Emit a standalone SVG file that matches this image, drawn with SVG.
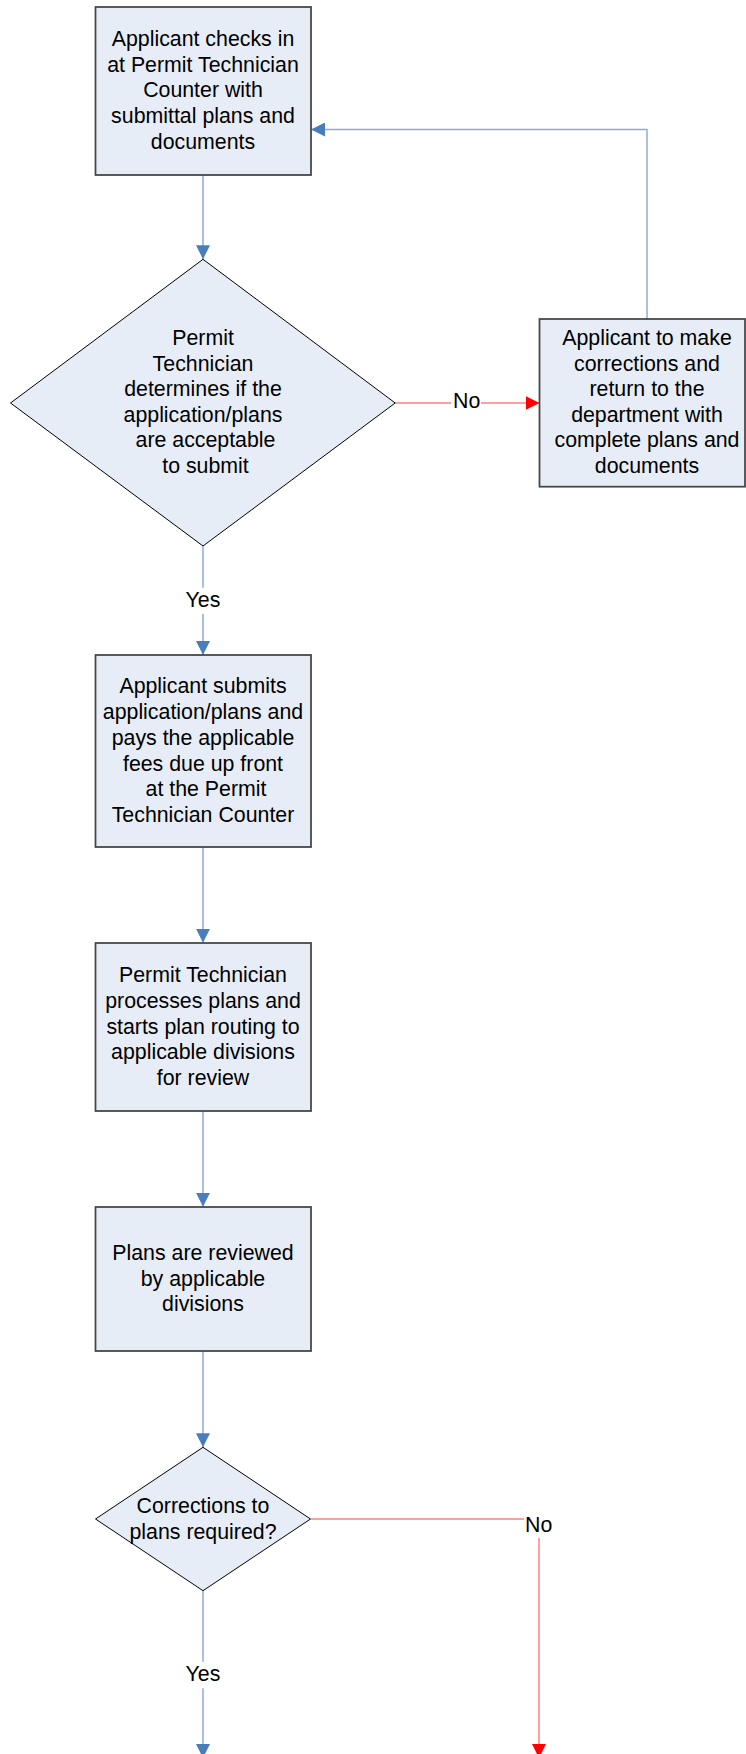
<svg xmlns="http://www.w3.org/2000/svg" width="746" height="1754" viewBox="0 0 746 1754">
<style>
.box{fill:#E7EDF7;stroke:#444;stroke-width:1.75}
.dia{fill:#E7EDF7;stroke:#000;stroke-width:1}
.t{font-family:"Liberation Sans",Arial,sans-serif;font-size:21.33px;fill:#000;text-anchor:middle}
.cb{fill:none;stroke:#8EAADB;stroke-width:1.5}
.cr{fill:none;stroke:#FF7F7F;stroke-width:1.5}
</style>
<defs>
<marker id="ab" viewBox="0 0 14 14" markerWidth="14" markerHeight="14" refX="14" refY="7" orient="auto" markerUnits="userSpaceOnUse"><path d="M0,0 L14,7 L0,14 z" fill="#4A7EBB"/></marker>
<marker id="ar" viewBox="0 0 14 14" markerWidth="14" markerHeight="14" refX="14" refY="7" orient="auto" markerUnits="userSpaceOnUse"><path d="M0,0 L14,7 L0,14 z" fill="#FF0000"/></marker>
</defs>
<g id="connectors">
<path class="cb" d="M203,175 V259.3" marker-end="url(#ab)"/>
<path class="cr" d="M395.2,403 H451"/>
<path class="cr" d="M481,403 H539.5" marker-end="url(#ar)"/>
<text class="t" x="466.7" y="408.3">No</text>
<path class="cb" d="M647,319 V129.5 H311" marker-end="url(#ab)"/>
<path class="cb" d="M203,546 V587.7"/>
<text class="t" x="203" y="606.7">Yes</text>
<path class="cb" d="M203,614 V655" marker-end="url(#ab)"/>
<path class="cb" d="M203,846.7 V942.7" marker-end="url(#ab)"/>
<path class="cb" d="M203,1111 V1206.7" marker-end="url(#ab)"/>
<path class="cb" d="M203,1350.7 V1447.3" marker-end="url(#ab)"/>
<path class="cr" d="M311,1519 H524"/>
<text class="t" x="538.7" y="1531.5">No</text>
<path class="cr" d="M539,1538 V1758" marker-end="url(#ar)"/>
<path class="cb" d="M203,1590.7 V1661.7"/>
<text class="t" x="203" y="1680.7">Yes</text>
<path class="cb" d="M203,1688.3 V1758" marker-end="url(#ab)"/>
</g>
<g id="n1">
<rect class="box" x="95.5" y="7" width="215.5" height="168"/>
<text class="t" x="203" y="46">Applicant checks in</text>
<text class="t" x="203" y="71.7">at Permit Technician</text>
<text class="t" x="203" y="97.4">Counter with</text>
<text class="t" x="203" y="123.1">submittal plans and</text>
<text class="t" x="203" y="148.8">documents</text>
</g>
<g id="d1">
<polygon class="dia" points="203,259.3 395.2,403 203,546 10.5,403"/>
<text class="t" x="203" y="345">Permit</text>
<text class="t" x="203" y="370.6">Technician</text>
<text class="t" x="203" y="396.2">determines if the</text>
<text class="t" x="203" y="421.8">application/plans</text>
<text class="t" x="205.5" y="447.4">are acceptable</text>
<text class="t" x="205.5" y="473">to submit</text>
</g>
<g id="n2">
<rect class="box" x="539.5" y="319" width="205.5" height="167.7"/>
<text class="t" x="647" y="345">Applicant to make</text>
<text class="t" x="647" y="370.6">corrections and</text>
<text class="t" x="647" y="396.2">return to the</text>
<text class="t" x="647" y="421.8">department with</text>
<text class="t" x="647" y="447.4">complete plans and</text>
<text class="t" x="647" y="473">documents</text>
</g>
<g id="n3">
<rect class="box" x="95.5" y="655" width="215.5" height="192"/>
<text class="t" x="203" y="693.4">Applicant submits</text>
<text class="t" x="203" y="719.1">application/plans and</text>
<text class="t" x="203" y="744.8">pays the applicable</text>
<text class="t" x="203" y="770.5">fees due up front</text>
<text class="t" x="206" y="796.2">at the Permit</text>
<text class="t" x="203" y="821.9">Technician Counter</text>
</g>
<g id="n4">
<rect class="box" x="95.5" y="943" width="215.5" height="168"/>
<text class="t" x="203" y="982.3">Permit Technician</text>
<text class="t" x="203" y="1008">processes plans and</text>
<text class="t" x="203" y="1033.7">starts plan routing to</text>
<text class="t" x="203" y="1059.4">applicable divisions</text>
<text class="t" x="203" y="1085.1">for review</text>
</g>
<g id="n5">
<rect class="box" x="95.5" y="1207" width="215.5" height="144"/>
<text class="t" x="203" y="1260">Plans are reviewed</text>
<text class="t" x="203" y="1285.7">by applicable</text>
<text class="t" x="203" y="1311.4">divisions</text>
</g>
<g id="d2">
<polygon class="dia" points="203,1447.3 310.5,1519 203,1590.7 95.5,1519"/>
<text class="t" x="203" y="1513">Corrections to</text>
<text class="t" x="203" y="1538.6">plans required?</text>
</g>
</svg>
